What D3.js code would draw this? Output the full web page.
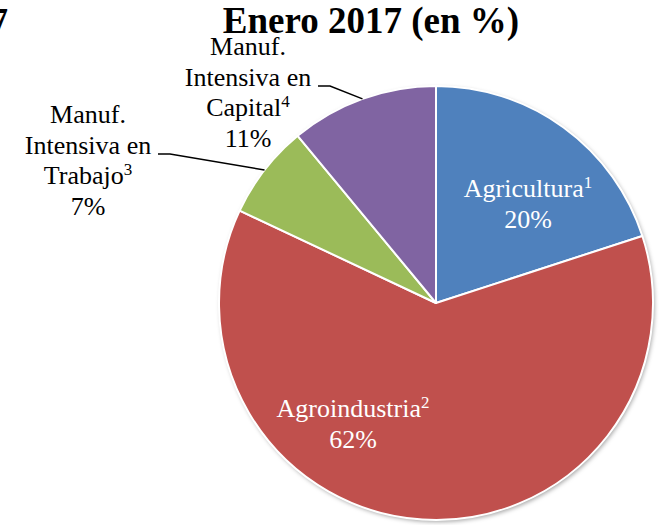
<!DOCTYPE html>
<html><head><meta charset="utf-8">
<script src="https://cdn.jsdelivr.net/npm/d3@7"></script>
<style>
html,body{margin:0;padding:0;background:#fff;}
svg{display:block;font-family:"Liberation Serif","Times New Roman",serif;}
</style></head>
<body>
<svg id="c" width="659" height="525"></svg>
<script>
const categories = ["Agricultura", "Agroindustria", "Manuf. Intensiva en Trabajo", "Manuf. Intensiva en Capital"];
const values = [20, 62, 7, 11];
const footnotes = ["1", "2", "3", "4"];
const colors = ["#4F81BD", "#C0504D", "#9BBB59", "#8064A2"];
const titleText = "Enero 2017 (en %)";

const svg = d3.select("#c");
const cx = 436, cy = 303, R = 217;

const defs = svg.append("defs");
const f = defs.append("filter").attr("id","sh").attr("x","-10%").attr("y","-10%").attr("width","120%").attr("height","120%");
f.append("feDropShadow").attr("dx",1.5).attr("dy",2).attr("stdDeviation",2).attr("flood-color","#000").attr("flood-opacity",0.35);

// cut-off title of neighbouring chart
svg.append("text").attr("x", 8).attr("y", 33).attr("text-anchor","end")
  .attr("font-weight","bold").attr("font-size",35).text("2017");

svg.append("text").attr("x", 371).attr("y", 33).attr("text-anchor","middle")
  .attr("font-weight","bold").attr("font-size",37).attr("fill","#000").text(titleText);

const pie = d3.pie().sort(null).value(d => d)(values);
const arc = d3.arc().innerRadius(0).outerRadius(R);

const g = svg.append("g").attr("transform", `translate(${cx},${cy})`);
g.append("circle").attr("r", R).attr("fill", "#fff").attr("filter","url(#sh)");
g.selectAll("path.s").data(pie).join("path").attr("class","s")
  .attr("d", arc).attr("fill", (d,i) => colors[i])
  .attr("stroke", "#fff").attr("stroke-width", 2).attr("stroke-linejoin","round");

// label layout (positions of text blocks)
const labelLayout = [
  {x: 528, y: 197, lines: ["Agricultura"], fill: "#fff", inside: true},
  {x: 353, y: 417, lines: ["Agroindustria"], fill: "#fff", inside: true},
  {x: 88, y: 123, lines: ["Manuf.", "Intensiva en", "Trabajo"], fill: "#000", inside: false, lx: 158, ly: 154},
  {x: 248, y: 55, lines: ["Manuf.", "Intensiva en", "Capital"], fill: "#000", inside: false, lx: 318, ly: 86}
];
const lh = 30.5;
const fmt = v => Math.round(v) + "%";

labelLayout.forEach((L, i) => {
  const t = svg.append("text").attr("text-anchor","middle").attr("font-size",26).attr("fill",L.fill);
  L.lines.forEach((ln, k) => {
    t.append("tspan").attr("x", L.x).attr("y", L.y + k*lh).text(ln);
    if (k === L.lines.length - 1) {
      t.append("tspan").attr("font-size",17).attr("dy",-9).text(footnotes[i]);
    }
  });
  t.append("tspan").attr("x", L.x).attr("y", L.y + L.lines.length*lh).text(fmt(values[i]));

  if (!L.inside) {
    const d = pie[i];
    const a = (d.startAngle + d.endAngle)/2;
    const ex = cx + R*Math.sin(a), ey = cy - R*Math.cos(a);
    svg.append("polyline")
      .attr("points", `${L.lx},${L.ly} ${L.lx+12},${L.ly} ${ex},${ey}`)
      .attr("fill","none").attr("stroke","#000").attr("stroke-width",1.5);
  }
});
</script>
</body></html>
